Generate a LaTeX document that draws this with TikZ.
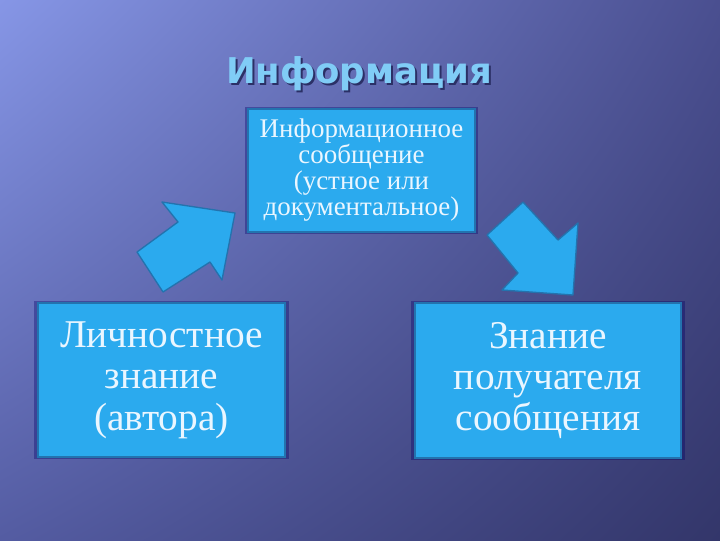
\documentclass[tikz,border=0pt]{standalone}
\usepackage{fontspec}
\setmainfont{Liberation Serif}
\newfontfamily\titlefont{DejaVu Sans}
\usetikzlibrary{shadows,shadings}
\definecolor{boxfill}{HTML}{2BAAEE}
\definecolor{boxline}{HTML}{2373AE}
\definecolor{boxtext}{HTML}{EAF6FF}
\definecolor{titleblue}{HTML}{80CCF6}
\definecolor{titleshade}{HTML}{2B3066}
\definecolor{bgUL}{HTML}{8696E6}
\definecolor{bgUR}{HTML}{4A4F90}
\definecolor{bgLL}{HTML}{545CA2}
\definecolor{bgLR}{HTML}{33366A}

\begin{document}
\begin{tikzpicture}[x=0.75pt,y=-0.75pt,
    infobox/.style={draw=boxline,line width=1.2pt,fill=boxfill,align=center,text=boxtext,inner sep=0pt,
        general shadow={fill=black!60!blue,opacity=0.35,shadow scale=1.03}},
    blockarrow/.style={draw=boxline,line width=1pt,fill=boxfill,line join=round}]
    \shade[upper left=bgUL,upper right=bgUR,lower left=bgLL,lower right=bgLR] (0,0) rectangle (720,540);
    \useasboundingbox (0,0) rectangle (720,540);

    \node[anchor=base,text=titleshade] (titleShadow) at (361,85) {\titlefont\bfseries\fontsize{26.6}{28}\selectfont Информация};
    \node[anchor=base,text=titleblue] (title) at (359,83) {\titlefont\bfseries\fontsize{26.6}{28}\selectfont Информация};

    \node[infobox,minimum width=170.25pt,minimum height=92.25pt,font=\fontsize{20.2}{19.5}\selectfont] (message) at (361.5,170.5)
        {Информационное\\сообщение\\(устное или\\документальное)};
    \node[infobox,minimum width=185.25pt,minimum height=115.5pt,font=\fontsize{29.5}{31}\selectfont] (author) at (161.5,380)
        {Личностное\\знание\\(автора)};
    \node[infobox,minimum width=199.5pt,minimum height=116.25pt,font=\fontsize{29.5}{31}\selectfont] (receiver) at (548,380.5)
        {Знание\\получателя\\сообщения};

    \draw[blockarrow] (178,222)--(162,202)--(235,213)--(222,280)--(210,262)--(163,292)--(137,252)--cycle;
    \draw[blockarrow] (487,235)--(523,202)--(558,240)--(578,223)--(573,295)--(502,290)--(518,273)--cycle;
\end{tikzpicture}
\end{document}
